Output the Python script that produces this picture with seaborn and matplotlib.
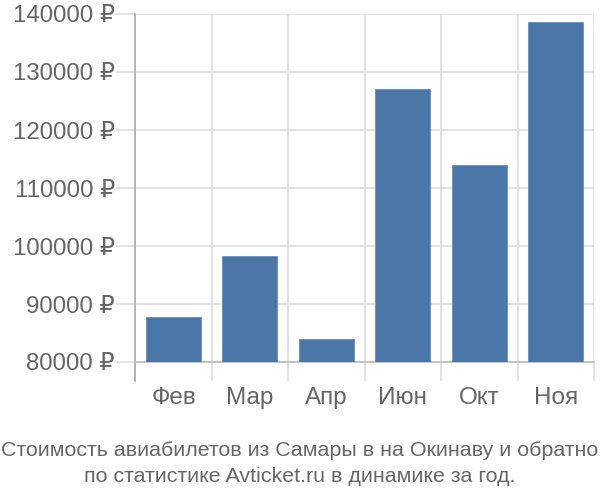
import matplotlib
matplotlib.use("Agg")
import matplotlib.pyplot as plt
import seaborn as sns
import pandas as pd
from matplotlib.ticker import FixedLocator, FuncFormatter

months = ["Фев", "Мар", "Апр", "Июн", "Окт", "Ноя"]
prices = [87700, 98200, 83900, 127000, 113950, 138550]
yticks = [80000, 90000, 100000, 110000, 120000, 130000, 140000]
title_lines = ["Стоимость авиабилетов из Самары в на Окинаву и обратно",
               "по статистике Avticket.ru в динамике за год."]

sns.set_theme(style="white")
plt.rcParams['font.family'] = ['Liberation Sans', 'DejaVu Sans']

df = pd.DataFrame({"month": months, "price": prices})

fig = plt.figure(figsize=(6, 5), dpi=100)
ax = fig.add_axes([0.2255, 0.276, 0.7645, 0.696])

sns.barplot(data=df, x="month", y="price", color="#4a77a8", saturation=1,
            width=0.72, ax=ax, zorder=3, edgecolor="#6a90bd", linewidth=0.6)

ax.set_ylim(80000, 140000)
ax.set_xlim(-0.5, len(months) - 0.5)
ax.set_xlabel("")
ax.set_ylabel("")

grid_c = "#dddddd"
px = 0.72  # points per pixel at dpi 100
ax.yaxis.set_major_locator(FixedLocator(yticks))
ax.yaxis.set_major_formatter(FuncFormatter(lambda v, p: f"{int(v)} ₽"))
ax.grid(axis="y", color=grid_c, linewidth=1.2, zorder=0)
ax.xaxis.set_minor_locator(FixedLocator([i - 0.5 for i in range(len(months) + 1)]))
ax.grid(axis="x", which="minor", color=grid_c, linewidth=1.2, zorder=0)
ax.tick_params(axis="x", which="major", bottom=False, length=0, labelsize=17.5,
               labelcolor="#666666", pad=25 * px)
ax.tick_params(axis="x", which="minor", bottom=True, length=19 * px, width=1.2,
               color=grid_c, direction="out")
ax.tick_params(axis="y", left=True, length=19 * px, width=1.2, color=grid_c,
               labelsize=17.3, labelcolor="#666666", pad=1)

for s in ["top", "right"]:
    ax.spines[s].set_visible(False)
ax.spines["left"].set_color("#aaaaaa")
ax.spines["left"].set_linewidth(1.2)
ax.spines["left"].set_bounds(76700, 140000)
ax.spines["bottom"].set_color("#bbbbbb")
ax.spines["bottom"].set_linewidth(1.2)

fig.text(0.5, 0.1, title_lines[0], ha="center", va="center", fontsize=15.4, color="#666666")
fig.text(0.5, 0.048, title_lines[1], ha="center", va="center", fontsize=15.4, color="#666666")

fig.savefig("out.png", dpi=100)
